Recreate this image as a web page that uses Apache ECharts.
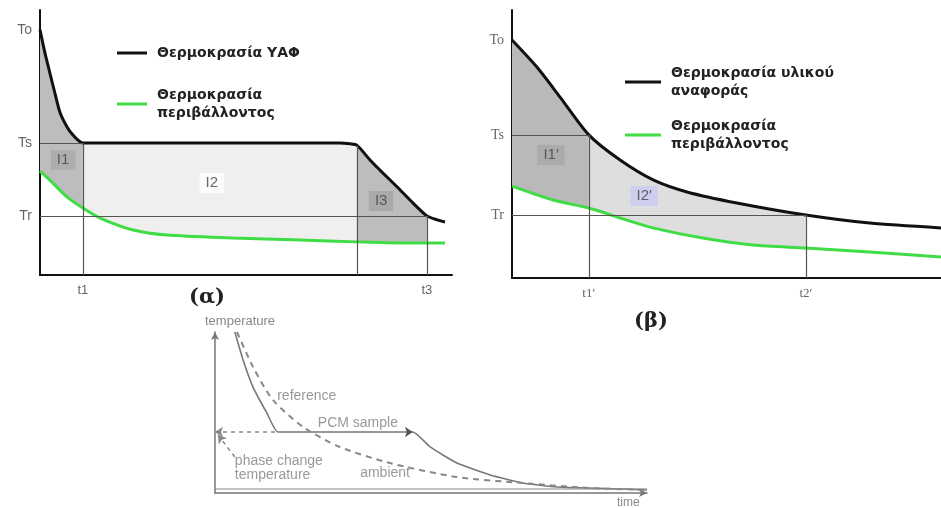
<!DOCTYPE html>
<html>
<head>
<meta charset="utf-8">
<script src="https://cdn.jsdelivr.net/npm/echarts@6.0.0/dist/echarts.min.js"></script>
<style>
  html, body { margin: 0; padding: 0; background: #fff; }
  #chart { width: 941px; height: 508px; }
</style>
</head>
<body>
<div id="chart"></div>
<script>
// ---- (α) ΥΑΦ δείγμα ----
const A_TIME  = [0, 1.2, 2.4, 3.6, 4.9, 6.6, 8.0, 9.3, 10.4, 72.8, 75.2, 76.9, 80.1, 82.5, 86.7, 89.8, 93.9, 96.4, 98.3];
const A_BLACK = [92.5, 83.8, 76.2, 68.7, 61.1, 55.8, 52.8, 50.8, 49.8, 49.8, 49.5, 49.0, 43.4, 39.6, 33.2, 28.3, 22.3, 20.8, 20.0];
const A_GTIME = [0, 2.4, 6.6, 10.4, 14.6, 22.6, 30.8, 46.8, 63.1, 76.9, 87.4, 98.3];
const A_GREEN = [39.2, 35.8, 29.4, 25.3, 21.5, 17.0, 15.1, 14.0, 13.2, 12.5, 12.1, 12.1];
const A_YTICKS = [22.3, 49.8, 92.5];
const A_YLABELS = ['Tr', 'Ts', 'To'];
const A_XTICKS = [10.4, 93.9];
const A_XLABELS = ['t1', 't3'];
const A_TM = 76.9;            // τέλος αλλαγής φάσης
const A_BANDS = [[0, 10.4], [10.4, 76.9], [76.9, 93.9]];
const A_AREA_NAMES = ['I1', 'I2', 'I3'];
const A_AREA_X = [5.6, 41.7, 82.8];
const A_AREA_Y = [43.4, 34.7, 27.9];

// ---- (β) υλικό αναφοράς ----
const B_TIME  = [0, 5.8, 11.2, 17.9, 25.2, 32.9, 40.8, 52.4, 68.5, 83.4, 100];
const B_BLACK = [88.8, 78.7, 67.5, 53.4, 44.0, 36.6, 32.1, 28.0, 23.5, 20.5, 18.7];
const B_GTIME = [0, 9.6, 17.9, 25.2, 32.9, 44.5, 56.2, 68.5, 83.4, 100];
const B_GREEN = [34.3, 29.1, 26.1, 22.4, 18.7, 14.9, 12.3, 11.2, 9.7, 7.8];
const B_YTICKS = [23.5, 53.4, 88.8];
const B_YLABELS = ['Tr', 'Ts', 'To'];
const B_XTICKS = [17.9, 68.5];
const B_XLABELS = ['t1\u2032', 't2\u2032'];
const B_BANDS = [[0, 17.9], [17.9, 68.5]];
const B_AREA_NAMES = ['I1\u2032', 'I2\u2032'];
const B_AREA_X = [9.1, 30.8];
const B_AREA_Y = [45.9, 30.6];

// ---- κάτω σχήμα (T-history) ----
const G_PCM_T = [4.6, 6.5, 8.8, 12.0, 14.6, 45.8, 49.8, 56.0, 63.7, 71.3, 79.2, 94.4, 100];
const G_PCM   = [100, 82.6, 65.8, 49.7, 37.9, 37.9, 28.6, 18.6, 11.2, 6.2, 3.7, 2.5, 1.9];
const G_REF_T = [5.1, 8.8, 13.4, 20.4, 28.9, 40.5, 56.0, 71.3, 86.8, 100];
const G_REF   = [100, 78.3, 57.8, 41.0, 28.6, 18.6, 9.9, 6.2, 3.1, 1.9];
const G_AMBIENT = 2.5;
const G_PHASE = 37.9;
const G_NOTES = ['reference', 'PCM sample', 'phase change\ntemperature', 'ambient'];
const G_NOTE_X = [14.4, 23.8, 4.6, 33.6];
const G_NOTE_Y = [60.2, 43.5, 15.5, 12.4];

const NAME_A = 'Θερμοκρασία ΥΑΦ';
const NAME_B = 'Θερμοκρασία υλικού\nαναφοράς';
const NAME_G = 'Θερμοκρασία\nπεριβάλλοντος';

const zip = (xs, ys) => xs.map((x, i) => [x, ys[i]]);

function interp(xs, ys, x) {
  if (x <= xs[0]) return ys[0];
  for (let i = 1; i < xs.length; i++) {
    if (x <= xs[i]) {
      const t = (x - xs[i - 1]) / (xs[i] - xs[i - 1]);
      return ys[i - 1] + t * (ys[i] - ys[i - 1]);
    }
  }
  return ys[ys.length - 1];
}

// γέμισμα ανάμεσα στην καμπύλη δείγματος και στην καμπύλη περιβάλλοντος
function bandRenderer(upX, upY, loX, loY, fills) {
  return function (params, api) {
    const x0 = api.value(0), x1 = api.value(1);
    const side = (xs, ys) => {
      const pts = [[x0, interp(xs, ys, x0)]];
      xs.forEach((x, i) => { if (x > x0 && x < x1) pts.push([x, ys[i]]); });
      pts.push([x1, interp(xs, ys, x1)]);
      return pts;
    };
    const pts = side(upX, upY).concat(side(loX, loY).reverse()).map(p => api.coord(p));
    return { type: 'polygon', shape: { points: pts }, style: { fill: fills[params.dataIndex] } };
  };
}

const pick = (ticks, labels) => v => {
  let best = 0;
  ticks.forEach((t, i) => { if (Math.abs(t - v) < Math.abs(ticks[best] - v)) best = i; });
  return labels[best];
};

function axisPair(grid, xt, xl, yt, yl, font, xMargin) {
  const line = { show: true, onZero: false, lineStyle: { color: '#111', width: 2 } };
  return {
    x: {
      gridIndex: grid, type: 'value', min: 0, max: 100,
      axisLine: line, axisTick: { show: false }, splitLine: { show: false },
      axisLabel: { customValues: xt, formatter: pick(xt, xl), color: '#666', fontSize: 13, fontFamily: font, margin: xMargin }
    },
    y: {
      gridIndex: grid, type: 'value', min: 0, max: 100,
      axisLine: line, axisTick: { show: false }, splitLine: { show: false },
      axisLabel: { customValues: yt, formatter: pick(yt, yl), color: '#666', fontSize: 14, fontFamily: font, margin: 8 }
    }
  };
}

const axA = axisPair(0, A_XTICKS, A_XLABELS, A_YTICKS, A_YLABELS, 'Liberation Sans', 9);
const axB = axisPair(1, B_XTICKS, B_XLABELS, B_YTICKS, B_YLABELS, 'Liberation Serif', 9);
const grayLine = { show: true, onZero: false, symbol: ['none', 'arrow'], symbolSize: [6, 8], lineStyle: { color: '#777', width: 1.5 } };

const guide = { silent: true, symbol: 'none', label: { show: false }, lineStyle: { color: '#555', width: 1.2, type: 'solid' } };
const seg = (p, q) => [{ coord: p }, { coord: q }];

const areaLabels = (names, xs, ys, bgs, xi) => ({
  type: 'scatter', xAxisIndex: xi, yAxisIndex: xi, symbolSize: 0, silent: true, z: 5,
  data: names.map((n, i) => ({ name: n, value: [xs[i], ys[i]], label: { backgroundColor: bgs[i] } })),
  label: { show: true, position: 'inside', formatter: '{b}', color: '#444', fontSize: 15, fontFamily: 'Liberation Sans', padding: [3, 6, 2, 6] }
});

const legendText = { fontFamily: 'DejaVu Sans', fontWeight: 'bold', fontSize: 14, color: '#222', lineHeight: 18, padding: [0, 0, 0, 5] };
const SMOOTH = 0.25;

const chart = echarts.init(document.getElementById('chart'), null, { renderer: 'canvas' });
chart.setOption({
  animation: false,
  backgroundColor: '#fff',
  title: [
    { text: '(α)', left: 184, top: 282, textStyle: { fontFamily: 'DejaVu Serif', fontWeight: 'bold', fontSize: 21, color: '#222' } },
    { text: '(β)', left: 629, top: 306, textStyle: { fontFamily: 'DejaVu Serif', fontWeight: 'bold', fontSize: 21, color: '#222' } }
  ],
  legend: [
    { data: [NAME_A, NAME_G], left: 112, top: 39, orient: 'vertical', itemGap: 24, icon: 'rect', itemWidth: 30, itemHeight: 3, textStyle: legendText, selectedMode: false },
    { data: [NAME_B, NAME_G], left: 620, top: 59, orient: 'vertical', itemGap: 17, icon: 'rect', itemWidth: 36, itemHeight: 3, textStyle: legendText, selectedMode: false }
  ],
  grid: [
    { left: 40, top: 10, width: 412, height: 265, outerBoundsMode: 'none' },
    { left: 512, top: 10, width: 429, height: 268, outerBoundsMode: 'none' },
    { left: 215, top: 332, width: 432, height: 161, outerBoundsMode: 'none' }
  ],
  xAxis: [
    axA.x, axB.x,
    { gridIndex: 2, type: 'value', min: 0, max: 100, axisLine: grayLine, axisTick: { show: false }, splitLine: { show: false }, axisLabel: { show: false },
      name: 'time', nameLocation: 'end', nameGap: -30, nameTextStyle: { color: '#888', fontSize: 12, fontFamily: 'Liberation Sans', verticalAlign: 'top', padding: [4, 0, 0, 0] } }
  ],
  yAxis: [
    axA.y, axB.y,
    { gridIndex: 2, type: 'value', min: 0, max: 100, axisLine: grayLine, axisTick: { show: false }, splitLine: { show: false }, axisLabel: { show: false },
      name: 'temperature', nameLocation: 'end', nameGap: 4, nameTextStyle: { color: '#888', fontSize: 13, fontFamily: 'Liberation Sans', align: 'left', padding: [0, 0, 0, -10] } }
  ],
  series: [
    // (α)
    { type: 'custom', xAxisIndex: 0, yAxisIndex: 0, silent: true, z: 1,
      renderItem: bandRenderer(A_TIME, A_BLACK, A_GTIME, A_GREEN, ['#bdbdbd', '#efefef', '#bdbdbd']),
      data: A_BANDS.map(b => [b[0], b[1], 0]), encode: { x: [0, 1], y: 2 } },
    { name: NAME_A, type: 'line', xAxisIndex: 0, yAxisIndex: 0, showSymbol: false, z: 4, color: '#111',
      smooth: SMOOTH,
      lineStyle: { color: '#111', width: 3 }, data: zip(A_TIME, A_BLACK),
      markLine: Object.assign({}, guide, { data: [
        seg([0, A_YTICKS[1]], [A_XTICKS[0], A_YTICKS[1]]),
        seg([0, A_YTICKS[0]], [A_XTICKS[1], A_YTICKS[0]]),
        seg([A_XTICKS[0], A_YTICKS[1]], [A_XTICKS[0], 0]),
        seg([A_TM, interp(A_TIME, A_BLACK, A_TM)], [A_TM, 0]),
        seg([A_XTICKS[1], A_YTICKS[0]], [A_XTICKS[1], 0])
      ] }) },
    { name: NAME_G, type: 'line', xAxisIndex: 0, yAxisIndex: 0, showSymbol: false, z: 4, color: '#3fdc45',
      smooth: SMOOTH,
      lineStyle: { color: '#3fdc45', width: 3 }, data: zip(A_GTIME, A_GREEN) },
    areaLabels(A_AREA_NAMES, A_AREA_X, A_AREA_Y, ['#a9a9a9', '#ffffff', '#a4a4a4'], 0),

    // (β)
    { type: 'custom', xAxisIndex: 1, yAxisIndex: 1, silent: true, z: 1,
      renderItem: bandRenderer(B_TIME, B_BLACK, B_GTIME, B_GREEN, ['#b9b9b9', '#dedede']),
      data: B_BANDS.map(b => [b[0], b[1], 0]), encode: { x: [0, 1], y: 2 } },
    { name: NAME_B, type: 'line', xAxisIndex: 1, yAxisIndex: 1, showSymbol: false, z: 4, color: '#111',
      smooth: SMOOTH,
      lineStyle: { color: '#111', width: 3 }, data: zip(B_TIME, B_BLACK),
      markLine: Object.assign({}, guide, { data: [
        seg([0, B_YTICKS[1]], [B_XTICKS[0], B_YTICKS[1]]),
        seg([0, B_YTICKS[0]], [B_XTICKS[1], B_YTICKS[0]]),
        seg([B_XTICKS[0], B_YTICKS[1]], [B_XTICKS[0], 0]),
        seg([B_XTICKS[1], B_YTICKS[0]], [B_XTICKS[1], 0])
      ] }) },
    { name: NAME_G, type: 'line', xAxisIndex: 1, yAxisIndex: 1, showSymbol: false, z: 4, color: '#3fdc45',
      smooth: SMOOTH,
      lineStyle: { color: '#3fdc45', width: 3 }, data: zip(B_GTIME, B_GREEN) },
    areaLabels(B_AREA_NAMES, B_AREA_X, B_AREA_Y, ['#a8a8a8', '#c9c9f2'], 1),

    // κάτω σχήμα
    { name: 'PCM sample', type: 'line', xAxisIndex: 2, yAxisIndex: 2, showSymbol: false, z: 3,
      smooth: 0.15,
      lineStyle: { color: '#777', width: 1.6 }, data: zip(G_PCM_T, G_PCM),
      markPoint: { silent: true, symbol: 'arrow', symbolSize: 8, symbolRotate: -90, label: { show: false },
        itemStyle: { color: '#555' }, data: [{ coord: [G_PCM_T[5], G_PCM[5]] }] },
      markLine: { silent: true, label: { show: false }, symbolSize: 8,
        lineStyle: { color: '#888', width: 1.5, type: [4, 4] },
        data: [
          [{ coord: [0, G_PHASE], symbol: 'arrow' }, { coord: [G_PCM_T[4], G_PHASE], symbol: 'none' }],
          [{ coord: [4.6, 22.4], symbol: 'none' }, { coord: [0.7, 36.0], symbol: 'arrow' }]
        ] } },
    { name: 'reference', type: 'line', xAxisIndex: 2, yAxisIndex: 2, showSymbol: false, z: 3,
      smooth: SMOOTH,
      lineStyle: { color: '#888', width: 2, type: [6, 5] }, data: zip(G_REF_T, G_REF) },
    { name: 'ambient', type: 'line', xAxisIndex: 2, yAxisIndex: 2, showSymbol: false, z: 3,
      lineStyle: { color: '#888', width: 1.2 }, data: [[0, G_AMBIENT], [100, G_AMBIENT]] },
    { type: 'scatter', xAxisIndex: 2, yAxisIndex: 2, symbolSize: 0, silent: true,
      data: G_NOTES.map((n, i) => ({ name: n, value: [G_NOTE_X[i], G_NOTE_Y[i]] })),
      label: { show: true, position: 'right', distance: 0, formatter: '{b}', color: '#808080', fontSize: 14, lineHeight: 14, fontFamily: 'Liberation Sans' } }
  ]
});
</script>
</body>
</html>
